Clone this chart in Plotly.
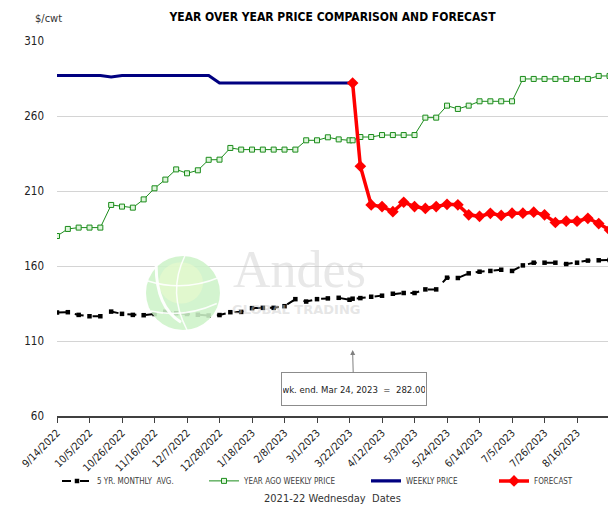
import pandas as pd
import plotly.graph_objects as go

# ---- data -------------------------------------------------------------
week_dates = [d.strftime("%Y-%m-%d") for d in pd.date_range("2022-09-14", periods=52, freq="7D")]
report_date = "2023-03-24"          # Friday report week that joins actuals to the forecast
dates = week_dates[:28] + [report_date] + week_dates[28:]

five_yr_avg = [129.0, 129.2, 127.4, 126.5, 126.5, 129.6, 128.1, 127.4, 127.2, 128.0,
               129.5, 128.5, 128.0, 127.5, 127.0, 127.3, 129.2, 129.4, 131.9, 132.1,
               132.1, 133.2, 137.9, 136.3, 137.9, 138.4, 138.8, 137.5, 138.2,
               138.6, 139.5, 140.2, 141.5, 142.0, 142.0, 144.4, 144.4, 152.2, 152.0,
               155.1, 156.2, 156.7, 157.5, 156.7, 160.4, 162.2, 162.2, 162.2, 161.3,
               162.2, 163.6, 163.8, 164.0]

year_ago = [180.0, 184.7, 185.6, 185.6, 185.6, 200.7, 199.6, 198.9, 204.4, 211.8,
            217.6, 224.4, 221.8, 223.8, 230.8, 230.9, 238.7, 237.6, 237.6, 237.6,
            237.6, 237.6, 237.6, 243.8, 243.8, 245.8, 244.4, 243.8, 243.8,
            246.0, 246.0, 247.3, 247.3, 247.3, 247.3, 258.9, 258.9, 266.9, 264.7,
            266.9, 269.8, 269.8, 269.8, 269.8, 284.7, 284.7, 284.7, 284.7, 284.7,
            284.7, 284.7, 286.7, 286.7]

weekly_price = [287, 287, 287, 287, 287, 286, 287, 287, 287, 287,
                287, 287, 287, 287, 287, 282, 282, 282, 282, 282,
                282, 282, 282, 282, 282, 282, 282, 282, 282]

forecast = [282.0, 226.5, 200.7, 199.6, 196.2, 202.5, 199.6, 198.4, 199.6, 201.1,
            200.8, 194.1, 193.1, 195.1, 193.7, 195.2, 195.2, 195.9, 194.1, 189.0,
            189.9, 189.9, 191.8, 188.3, 184.0]

weekly_dates = dates[:len(weekly_price)]
forecast_dates = dates[len(weekly_price) - 1:]

FONT = "DejaVu Sans Condensed, Liberation Sans, sans-serif"

fig = go.Figure()

fig.add_trace(go.Scatter(
    x=dates, y=five_yr_avg, name="5 YR. MONTHLY  AVG.", mode="lines+markers",
    line=dict(color="black", width=2, dash="dash"),
    marker=dict(symbol="square", size=4.5, color="black"),
    legend="legend"))

fig.add_trace(go.Scatter(
    x=dates, y=year_ago, name="YEAR AGO WEEKLY PRICE", mode="lines+markers",
    line=dict(color="#1b8c1b", width=1),
    marker=dict(symbol="square", size=5, color="#dff5dc",
                line=dict(color="#1b8c1b", width=1)),
    legend="legend2"))

fig.add_trace(go.Scatter(
    x=weekly_dates, y=weekly_price, name="WEEKLY PRICE", mode="lines",
    line=dict(color="#000080", width=3.2),
    legend="legend3"))

fig.add_trace(go.Scatter(
    x=forecast_dates, y=forecast, name="FORECAST", mode="lines+markers",
    line=dict(color="#ff0000", width=3.5),
    marker=dict(symbol="diamond", size=9, color="#ff0000"),
    legend="legend4"))

# ---- layout -----------------------------------------------------------
def legend_at(x):
    return dict(x=x, y=-0.173, xanchor="left", yanchor="middle", orientation="h",
                bgcolor="rgba(0,0,0,0)", itemwidth=30,
                font=dict(family=FONT, size=8, color="#404040"))

fig.update_layout(
    width=608, height=506,
    margin=dict(l=57, r=0, t=41, b=90),
    paper_bgcolor="white", plot_bgcolor="white",
    font=dict(family=FONT, color="#222222"),
    title=dict(text="YEAR OVER YEAR PRICE COMPARISON AND FORECAST",
               x=0.5, xref="paper", y=1 - 17 / 506, yanchor="middle",
               font=dict(family=FONT, size=12, weight="bold", color="black")),
    showlegend=True,
    legend=legend_at(0.0),
    legend2=legend_at(0.2668),
    legend3=legend_at(0.5608),
    legend4=legend_at(0.7931),
    xaxis=dict(
        type="date", range=["2022-09-14", "2023-09-05"],
        tickmode="linear", tick0="2022-09-14", dtick=21 * 86400000,
        tickformat="%-m/%-d/%Y", tickangle=-45,
        tickfont=dict(family=FONT, size=10.5, color="#222222"),
        ticks="outside", ticklen=5, tickcolor="#404040",
        showline=True, linecolor="#404040", linewidth=1.5,
        showgrid=False, zeroline=False),
    yaxis=dict(
        range=[60, 310], tick0=60, dtick=50,
        tickfont=dict(family=FONT, size=11.5, color="#222222"),
        showgrid=True, gridcolor="#d4d4d4", gridwidth=1,
        showline=False, zeroline=False, ticks="", ticklabelstandoff=12),
)

# axis captions
fig.add_annotation(text="$/cwt", xref="paper", yref="paper", x=-0.0436, y=1.0613,
                   yanchor="middle", showarrow=False,
                   font=dict(family=FONT, size=11, color="#333333"))
fig.add_annotation(text="2021-22 Wednesday\u00a0 Dates", xref="paper", yref="paper",
                   x=0.5, y=-0.221, yanchor="middle", showarrow=False,
                   font=dict(family=FONT, size=11, color="#333333"))

# call-out for the latest reported weekly price
fig.add_annotation(
    x=report_date, y=104, xref="x", yref="y",
    text=f"wk. end. Mar 24, 2023\u00a0 =\u00a0 {weekly_price[-1]:.2f}",
    showarrow=True, ax=1, ay=39, arrowhead=2, arrowsize=1, arrowwidth=1,
    arrowcolor="#808080", bordercolor="#8c8c8c", borderwidth=1, bgcolor="white",
    width=142, height=30, font=dict(family=FONT, size=9.5, color="#222222"))

# watermark: globe + wordmark
fig.add_shape(type="circle", xref="paper", yref="paper",
              x0=0.1615, x1=0.2958, y0=0.2293, y1=0.4267, layer="above",
              fillcolor="rgba(205,242,200,0.88)", line=dict(width=0))
fig.add_shape(type="circle", xref="paper", yref="paper",
              x0=0.185, x1=0.265, y0=0.30, y1=0.41, layer="above",
              fillcolor="rgba(235,250,205,0.6)", line=dict(width=0))
fig.add_shape(type="path", xref="paper", yref="paper", layer="above",
              path="M0.232,0.4267 Q0.20,0.33 0.236,0.2293",
              line=dict(color="rgba(255,255,255,0.9)", width=1.5))
fig.add_shape(type="path", xref="paper", yref="paper", layer="above",
              path="M0.165,0.36 Q0.23,0.33 0.295,0.37",
              line=dict(color="rgba(255,255,255,0.9)", width=1.5))
fig.add_shape(type="path", xref="paper", yref="paper", layer="above",
              path="M0.17,0.28 Q0.23,0.26 0.29,0.30",
              line=dict(color="rgba(255,255,255,0.9)", width=1.5))
fig.add_shape(type="path", xref="paper", yref="paper", layer="above",
              path="M0.18,0.40 Q0.18,0.29 0.225,0.25",
              line=dict(color="rgba(255,255,255,0.95)", width=3))
fig.add_annotation(text="Andes", xref="paper", yref="paper", x=0.44, y=0.392,
                   showarrow=False,
                   font=dict(family="Liberation Serif, serif", size=52,
                             color="rgba(205,205,205,0.45)"))
fig.add_annotation(text="GLOBAL TRADING", xref="paper", yref="paper", x=0.434, y=0.258,
                   showarrow=False,
                   font=dict(family="DejaVu Sans, sans-serif", size=13, weight="bold",
                             color="rgba(205,205,205,0.5)"))

fig.write_html("out.html")
